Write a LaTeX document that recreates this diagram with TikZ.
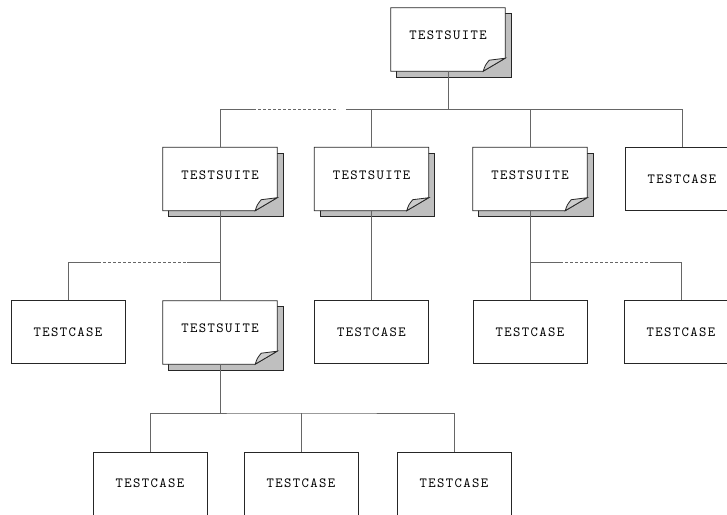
\documentclass[tikz,border=0pt]{standalone}
\usepackage{fontspec}
\usetikzlibrary{backgrounds}
\newfontfamily\boxfont[Extension=.otf, LetterSpace=10]{lmmono10-regular}
\tikzset{
  box/.style={minimum width=114pt, minimum height=63pt, inner sep=0pt,
    font=\fontsize{14}{14}\boxfont},
  case/.style={box, draw=black!85, fill=white, line width=0.8pt,
    text height=8.5pt, text depth=0pt},
  suite/.style={box, text height=4pt, text depth=4pt},
  link/.style={draw=black!60, line width=0.8pt},
  gap/.style={link, dash pattern=on 3pt off 2pt},
}
\begin{document}
\begin{tikzpicture}[x=1pt, y=-1pt]
  \useasboundingbox (0,0) rectangle (727,514);
  % top level
  \node[suite] (root) at (448,39.5) {TESTSUITE};
  % second level
  \node[suite] (s1) at (220,179) {TESTSUITE};
  \node[suite] (s2) at (371.5,179) {TESTSUITE};
  \node[suite] (s3) at (530,179) {TESTSUITE};
  \node[case] (c4) at (682,179) {TESTCASE};
  % third level
  \node[case] (c11) at (68,332) {TESTCASE};
  \node[suite] (s12) at (220,332.5) {TESTSUITE};
  \node[case] (c21) at (371.5,332) {TESTCASE};
  \node[case] (c31) at (530,332) {TESTCASE};
  \node[case] (c32) at (681,332) {TESTCASE};
  % fourth level
  \node[case] (c121) at (150,483.5) {TESTCASE};
  \node[case] (c122) at (301,483.5) {TESTCASE};
  \node[case] (c123) at (454,483.5) {TESTCASE};
  % suite pages: shadow, sheet with cut corner, curl
  \begin{pgfonlayer}{background}
    \foreach \n in {root,s1,s2,s3,s12}{
      \draw[draw=black!85, fill=black!25, line width=0.8pt]
        ([shift={(6,6)}]\n.north west) rectangle ([shift={(6,6)}]\n.south east);
      \draw[draw=black!85, fill=white, line width=0.8pt]
        (\n.north west) -- (\n.north east) -- ([shift={(0,-13)}]\n.south east)
        -- ([shift={(-22,0)}]\n.south east) -- (\n.south west) -- cycle;
      \draw[draw=black!85, fill=black!20, line width=0.8pt]
        ([shift={(-22,0)}]\n.south east)
        .. controls ([shift={(-20,-6)}]\n.south east) .. ([shift={(-16,-11)}]\n.south east)
        -- ([shift={(0,-13)}]\n.south east) -- cycle;
    }
  \end{pgfonlayer}
  % root bus
  \coordinate (d1a) at (253,109);
  \coordinate (d1b) at (338,109);
  \coordinate (d1c) at (346,109);
  \draw[link] (s1.north) |- (d1a);
  \draw[gap] (d1a) -- (d1b);
  \draw[link] (d1c) -| (c4.north);
  \draw[link] (root.south) -- (root.south |- d1c);
  \draw[link] (s2.north) -- (s2.north |- d1c);
  \draw[link] (s3.north) -- (s3.north |- d1c);
  % under s1
  \coordinate (d2a) at (98,262);
  \coordinate (d2b) at (187,262);
  \draw[link] (s1.south) -- (s12.north);
  \draw[link] (c11.north) |- (d2a);
  \draw[gap] (d2a) -- (d2b);
  \draw[link] (d2b) -- (s1.south |- d2b);
  % under s2
  \draw[link] (s2.south) -- (c21.north);
  % under s3
  \coordinate (d3a) at (560,262);
  \coordinate (d3b) at (650,262);
  \draw[link] (s3.south) -- (c31.north);
  \draw[link] (s3.south |- d3a) -- (d3a);
  \draw[gap] (d3a) -- (d3b);
  \draw[link] (d3b) -| (c32.north);
  % under s12
  \coordinate (b4) at (301,413);
  \draw[link] (s12.south) -- (s12.south |- b4);
  \draw[link] (c121.north) |- (b4) -| (c123.north);
  \draw[link] (c122.north) -- (b4);
\end{tikzpicture}
\end{document}
